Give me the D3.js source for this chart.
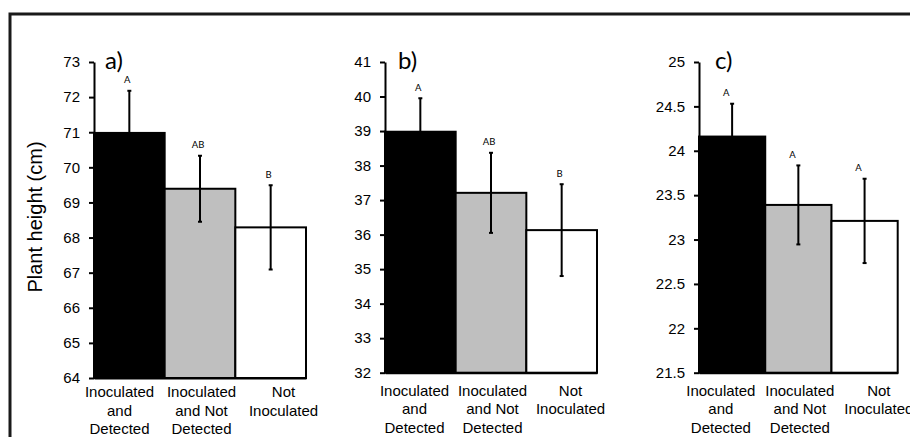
<!DOCTYPE html>
<html>
<head>
<meta charset="utf-8">
<script src="https://cdn.jsdelivr.net/npm/d3@7"></script>
<style>
  html, body { margin: 0; padding: 0; background: #fff; }
  svg { display: block; }
</style>
</head>
<body>
<svg id="chart" width="910" height="437"></svg>
<script>
// ---------- data ----------
const categories = [
  ["Inoculated", "and", "Detected"],
  ["Inoculated", "and Not", "Detected"],
  ["Not", "Inoculated"]
];
const groupKeys = ["ID", "IND", "NI"];
const barColors = ["#000000", "#bfbfbf", "#ffffff"];

const panelNames = ["a)", "b)", "c)"];

const meansA = [70.98, 69.39, 68.29];
const errA   = [1.20, 0.94, 1.20];
const lettersA = ["A", "AB", "B"];
const ticksA = [64, 65, 66, 67, 68, 69, 70, 71, 72, 73];

const meansB = [38.98, 37.21, 36.13];
const errB   = [0.97, 1.16, 1.33];
const lettersB = ["A", "AB", "B"];
const ticksB = [32, 33, 34, 35, 36, 37, 38, 39, 40, 41];

const meansC = [24.16, 23.39, 23.21];
const errC   = [0.37, 0.445, 0.475];
const lettersC = ["A", "A", "A"];
const ticksC = [21.5, 22, 22.5, 23, 23.5, 24, 24.5, 25];

const yTitle = "Plant height (cm)";

// ---------- layout ----------
const svg = d3.select("#chart");
const sans = "'Liberation Sans', Arial, Helvetica, sans-serif";
const cal = "Lato, 'Open Sans', sans-serif";

// outer frame
svg.append("rect")
  .attr("x", 10).attr("y", 14)
  .attr("width", 1000).attr("height", 600)
  .attr("fill", "none").attr("stroke", "#1a1a1a").attr("stroke-width", 3);

// y title
svg.append("text")
  .attr("transform", "translate(42,217) rotate(-90)")
  .attr("text-anchor", "middle")
  .style("font-family", sans).style("font-size", "20px").attr("fill", "#000")
  .text(yTitle);

const panels = [
  { name: panelNames[0], means: meansA, err: errA, letters: lettersA, ticks: ticksA,
    x0: 94, x1: 306, yTop: 62, yBot: 378, labY: 397, nameDx: 11, letDx: -2, labStep: 82 },
  { name: panelNames[1], means: meansB, err: errB, letters: lettersB, ticks: ticksB,
    x0: 385, x1: 597, yTop: 62, yBot: 372.7, labY: 395.5, nameDx: 13, letDx: -2, labStep: 78 },
  { name: panelNames[2], means: meansC, err: errC, letters: lettersC, ticks: ticksC,
    x0: 699, x1: 897.7, yTop: 62, yBot: 372.7, labY: 395.5, nameDx: 16, letDx: -6, labStep: 79 }
];

panels.forEach(p => {
  const g = svg.append("g");
  const y = d3.scaleLinear()
    .domain([p.ticks[0], p.ticks[p.ticks.length - 1]])
    .range([p.yBot, p.yTop]);
  const x = d3.scaleBand().domain(groupKeys).range([p.x0, p.x1]).padding(0);

  const data = groupKeys.map((k, i) => ({
    key: k, mean: p.means[i], err: p.err[i], letter: p.letters[i],
    color: barColors[i], cat: categories[i], i
  }));

  // bars
  g.selectAll("rect.bar").data(data).join("rect")
    .attr("class", "bar")
    .attr("x", d => x(d.key))
    .attr("y", d => y(d.mean))
    .attr("width", x.bandwidth())
    .attr("height", d => y(p.ticks[0]) - y(d.mean))
    .attr("fill", d => d.color)
    .attr("stroke", "#000").attr("stroke-width", 2);

  // error bars
  const cx = d => x(d.key) + x.bandwidth() / 2;
  const eb = g.selectAll("g.err").data(data).join("g").attr("class", "err")
    .attr("stroke", "#000").attr("stroke-width", 2);
  eb.append("line")
    .attr("x1", cx).attr("x2", cx)
    .attr("y1", d => y(d.mean + d.err)).attr("y2", d => y(d.mean - d.err));
  eb.append("line")
    .attr("x1", d => cx(d) - 2).attr("x2", d => cx(d) + 2)
    .attr("y1", d => y(d.mean + d.err)).attr("y2", d => y(d.mean + d.err));
  eb.append("line")
    .attr("x1", d => cx(d) - 2).attr("x2", d => cx(d) + 2)
    .attr("y1", d => y(d.mean - d.err)).attr("y2", d => y(d.mean - d.err));

  // significance letters
  g.selectAll("text.let").data(data).join("text")
    .attr("class", "let")
    .attr("x", d => cx(d) + p.letDx)
    .attr("y", d => y(d.mean + d.err) - 7.5)
    .attr("text-anchor", "middle")
    .style("font-family", cal).style("font-size", "9.5px").attr("fill", "#000")
    .text(d => d.letter);

  // y axis
  const axis = d3.axisLeft(y)
    .tickValues(p.ticks)
    .tickFormat(d3.format("~g"))
    .tickSize(5).tickSizeOuter(0).tickPadding(9);
  const ag = g.append("g").attr("transform", `translate(${p.x0},0)`).call(axis);
  ag.select(".domain").attr("stroke", "#000").attr("stroke-width", 2);
  ag.selectAll(".tick line").attr("stroke", "#000").attr("stroke-width", 2);
  ag.selectAll(".tick text")
    .style("font-family", sans).style("font-size", "15px").attr("fill", "#000");

  // x axis baseline
  const xa = d3.axisBottom(x).tickSize(0).tickFormat("");
  const xg = g.append("g").attr("transform", `translate(0,${p.yBot})`).call(xa);
  xg.select(".domain").attr("stroke", "#000").attr("stroke-width", 2);

  // category labels (spread slightly wider than bars)
  const mid = (p.x0 + p.x1) / 2 + 1.5;
  const lab = d3.scaleLinear().domain([0, 2]).range([mid - p.labStep, mid + p.labStep]);
  data.forEach(d => {
    const t = g.append("text")
      .attr("text-anchor", "middle")
      .style("font-family", sans).style("font-size", "15px").attr("fill", "#000");
    d.cat.forEach((line, j) => {
      t.append("tspan")
        .attr("x", lab(d.i))
        .attr("y", p.labY + j * 18.5)
        .text(line);
    });
  });

  // panel name
  g.append("text")
    .attr("x", p.x0 + p.nameDx).attr("y", 69)
    .style("font-family", cal).style("font-size", "24px").attr("fill", "#000")
    .text(p.name);
});
</script>
</body>
</html>
